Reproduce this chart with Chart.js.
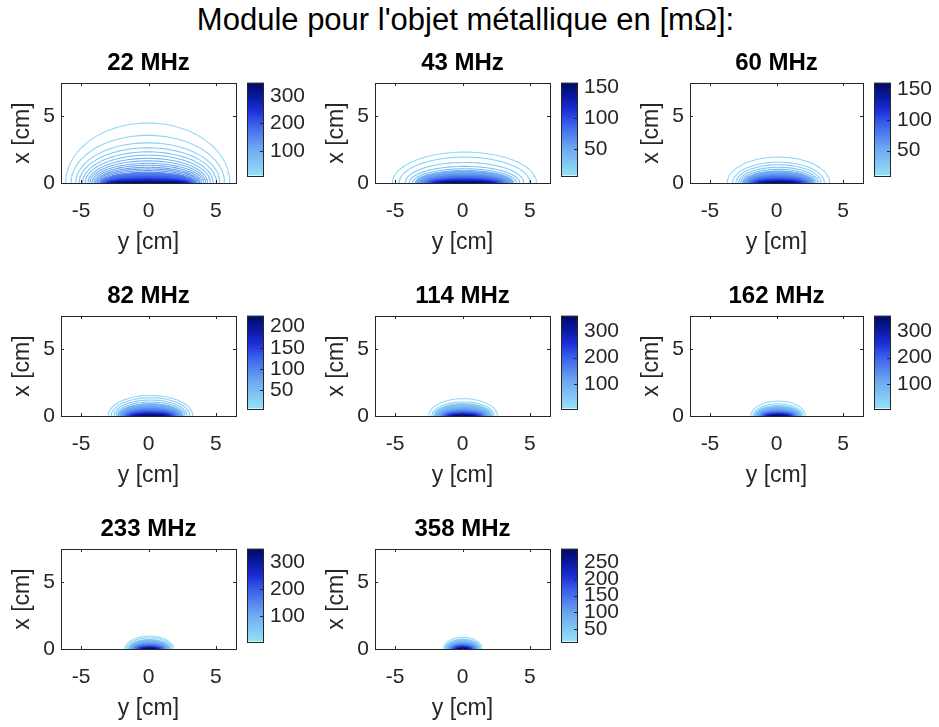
<!DOCTYPE html>
<html>
<head>
<meta charset="utf-8">
<script src="https://cdn.jsdelivr.net/npm/chart.js@4.4.1/dist/chart.umd.min.js"></script>
<style>
body{margin:0;background:#fff;width:939px;height:727px;position:relative;overflow:hidden;font-family:"Liberation Sans",Arial,sans-serif}
#title{position:absolute;left:-4px;top:0;width:939px;text-align:center;font-size:31px;line-height:40px;color:#000}
canvas{position:absolute}
</style>
</head>
<body>
<div id="title">Module pour l'objet métallique en [m<span style="font-family:'Liberation Serif',serif">Ω</span>]:</div>
<script>
// subplot titles, axis ticks
const freqs = ['22 MHz', '43 MHz', '60 MHz', '82 MHz', '114 MHz', '162 MHz', '233 MHz', '358 MHz'];
const yTicks = [-5, 0, 5];
const xTicks = [0, 5];

// colorbar limits and ticks [mOhm]
const cbMin = [10, 7, 10, 6.5, 9, 9, 8, 13];
const cbMax = [349, 158, 160, 226, 358, 358, 350, 291];
const cbTicks = [
  [100, 200, 300], [50, 100, 150], [50, 100, 150], [50, 100, 150, 200],
  [100, 200, 300], [100, 200, 300], [100, 200, 300], [50, 100, 150, 200, 250]
];

// contour centre along y [cm]
const centers = [-0.05, 0.15, 0.15, 0.15, 0.05, 0.12, 0.06, 0.02];

// contour levels, height along x [cm], half width along y [cm]
const lv22 = [20, 30, 40, 50, 60, 70, 80, 90, 100, 110, 120, 130, 140, 150, 160, 170, 180, 190, 200, 210, 220, 230, 240, 250, 260, 270, 280, 290, 300, 310, 320, 330, 340];
const h22 = [4.47, 3.55, 2.99, 2.62, 2.32, 2.07, 1.84, 1.65, 1.47, 1.32, 1.17, 1.05, 0.92, 0.80, 0.70, 0.62, 0.55, 0.49, 0.44, 0.39, 0.35, 0.31, 0.27, 0.24, 0.21, 0.18, 0.15, 0.12, 0.10, 0.08, 0.06, 0.04, 0.02];
const w22 = [6.10, 5.70, 5.35, 5.10, 4.85, 4.65, 4.45, 4.30, 4.15, 4.00, 3.88, 3.77, 3.66, 3.56, 3.47, 3.40, 3.33, 3.27, 3.21, 3.16, 3.11, 3.06, 3.01, 2.96, 2.91, 2.86, 2.80, 2.73, 2.65, 2.55, 2.42, 2.25, 1.95];

const lv43 = [12, 18, 24, 30, 36, 42, 48, 54, 60, 66, 72, 78, 84, 90, 96, 102, 108, 114, 120, 126, 132, 138, 144, 150, 155];
const h43 = [2.30, 1.93, 1.53, 1.24, 1.06, 0.93, 0.82, 0.73, 0.65, 0.58, 0.52, 0.46, 0.41, 0.36, 0.32, 0.28, 0.24, 0.21, 0.18, 0.15, 0.12, 0.09, 0.07, 0.04, 0.02];
const w43 = [5.35, 4.85, 4.40, 4.10, 3.85, 3.65, 3.48, 3.33, 3.20, 3.08, 2.97, 2.86, 2.76, 2.66, 2.57, 2.48, 2.39, 2.30, 2.20, 2.10, 1.98, 1.85, 1.70, 1.50, 1.15];

const lv60 = [15, 21, 27, 33, 39, 45, 51, 57, 63, 69, 75, 81, 87, 93, 99, 105, 111, 117, 123, 129, 135, 141, 147, 153, 158];
const h60 = [1.93, 1.55, 1.36, 1.17, 1.02, 0.90, 0.80, 0.71, 0.63, 0.56, 0.50, 0.44, 0.39, 0.34, 0.30, 0.26, 0.22, 0.19, 0.16, 0.13, 0.10, 0.08, 0.05, 0.03, 0.01];
const w60 = [3.85, 3.45, 3.20, 3.00, 2.84, 2.70, 2.58, 2.47, 2.37, 2.28, 2.19, 2.11, 2.03, 1.95, 1.87, 1.79, 1.71, 1.62, 1.53, 1.43, 1.32, 1.19, 1.04, 0.85, 0.55];

const lv82 = [15, 24, 33, 42, 51, 60, 69, 78, 87, 96, 105, 114, 123, 132, 141, 150, 159, 168, 177, 186, 195, 204, 213, 222];
const h82 = [1.53, 1.36, 1.19, 1.04, 0.92, 0.82, 0.73, 0.65, 0.58, 0.52, 0.46, 0.41, 0.36, 0.32, 0.28, 0.24, 0.21, 0.18, 0.15, 0.12, 0.09, 0.06, 0.04, 0.02];
const w82 = [3.15, 2.92, 2.72, 2.56, 2.43, 2.31, 2.21, 2.12, 2.04, 1.96, 1.89, 1.82, 1.75, 1.68, 1.61, 1.54, 1.47, 1.39, 1.31, 1.22, 1.11, 0.98, 0.82, 0.60];

const lv114 = [18, 32, 46, 60, 74, 88, 102, 116, 130, 144, 158, 172, 186, 200, 214, 228, 242, 256, 270, 284, 298, 312, 326, 340, 352];
const h114 = [1.29, 1.05, 0.92, 0.81, 0.72, 0.64, 0.57, 0.51, 0.46, 0.41, 0.37, 0.33, 0.29, 0.26, 0.23, 0.20, 0.17, 0.14, 0.12, 0.10, 0.08, 0.06, 0.04, 0.02, 0.01];
const w114 = [2.55, 2.32, 2.18, 2.06, 1.96, 1.87, 1.79, 1.72, 1.65, 1.58, 1.52, 1.46, 1.40, 1.34, 1.28, 1.22, 1.15, 1.08, 1.01, 0.93, 0.85, 0.75, 0.64, 0.50, 0.32];

const lv162 = [20, 36, 52, 68, 84, 100, 116, 132, 148, 164, 180, 196, 212, 228, 244, 260, 276, 292, 308, 324, 340, 352];
const h162 = [1.11, 0.90, 0.77, 0.67, 0.59, 0.52, 0.46, 0.41, 0.36, 0.32, 0.28, 0.25, 0.22, 0.19, 0.16, 0.13, 0.11, 0.09, 0.07, 0.05, 0.03, 0.01];
const w162 = [2.05, 1.88, 1.76, 1.66, 1.58, 1.51, 1.44, 1.38, 1.32, 1.26, 1.20, 1.14, 1.08, 1.02, 0.96, 0.89, 0.82, 0.74, 0.65, 0.54, 0.41, 0.25];

const lv233 = [20, 38, 56, 74, 92, 110, 128, 146, 164, 182, 200, 218, 236, 254, 272, 290, 308, 326, 344];
const h233 = [0.95, 0.82, 0.70, 0.61, 0.53, 0.46, 0.40, 0.35, 0.30, 0.26, 0.22, 0.19, 0.16, 0.13, 0.10, 0.08, 0.06, 0.04, 0.02];
const w233 = [1.80, 1.66, 1.54, 1.44, 1.35, 1.27, 1.19, 1.12, 1.05, 0.98, 0.91, 0.84, 0.77, 0.70, 0.62, 0.54, 0.45, 0.35, 0.22];

const lv358 = [22, 38, 54, 70, 86, 102, 118, 134, 150, 166, 182, 198, 214, 230, 246, 262, 278, 288];
const h358 = [0.88, 0.74, 0.63, 0.55, 0.48, 0.42, 0.37, 0.32, 0.28, 0.24, 0.20, 0.17, 0.14, 0.11, 0.08, 0.06, 0.04, 0.02];
const w358 = [1.42, 1.31, 1.21, 1.13, 1.06, 0.99, 0.93, 0.87, 0.81, 0.75, 0.69, 0.63, 0.57, 0.50, 0.43, 0.35, 0.27, 0.17];

const contours = [
  [lv22, h22, w22], [lv43, h43, w43], [lv60, h60, w60], [lv82, h82, w82],
  [lv114, h114, w114], [lv162, h162, w162], [lv233, h233, w233], [lv358, h358, w358]
];

// layout (px)
const colLeft = [61, 375, 690];
const colWidth = [175, 175, 173];
const rowTop = [83, 316, 549];
const axH = 100;
const cbLeft = [247, 561, 874];
const cbW = 17;

const ink = '#262626';
Chart.defaults.font.family = '"Liberation Sans", Arial, sans-serif';
Chart.defaults.color = ink;

// blue colormap, light cyan -> navy
const cmap = [
  [0, [148, 225, 248]], [0.3, [108, 166, 240]], [0.55, [58, 96, 234]],
  [0.7, [28, 46, 215]], [0.85, [10, 24, 160]], [1, [0, 10, 100]]
];
function colorAt(t) {
  t = Math.max(0, Math.min(1, t));
  for (let k = 1; k < cmap.length; k++) {
    if (t <= cmap[k][0]) {
      const [p0, c0] = cmap[k - 1], [p1, c1] = cmap[k];
      const f = (t - p0) / (p1 - p0);
      const c = c0.map((v, j) => Math.round(v + (c1[j] - v) * f));
      return `rgb(${c[0]},${c[1]},${c[2]})`;
    }
  }
  return 'rgb(0,10,100)';
}

// half ellipse through a contour's top and its two feet
function arc(h, w, c) {
  const pts = [];
  for (let k = 0; k <= 60; k++) {
    const t = Math.PI * k / 60;
    pts.push({x: c + w * Math.cos(t), y: h * Math.sin(t)});
  }
  return pts;
}

const matlabBox = {
  id: 'matlabBox',
  afterDraw(chart, args, opts) {
    const {ctx, chartArea: a} = chart;
    const sx = chart.scales.x, sy = chart.scales.y;
    ctx.save();
    ctx.strokeStyle = ink;
    ctx.lineWidth = 1;
    ctx.strokeRect(Math.round(a.left) + 0.5, Math.round(a.top) + 0.5, Math.round(a.width), Math.round(a.height));
    ctx.beginPath();
    yTicks.forEach(v => {
      const px = Math.round(sx.getPixelForValue(v)) + 0.5;
      ctx.moveTo(px, a.bottom); ctx.lineTo(px, a.bottom - 3);
      ctx.moveTo(px, a.top); ctx.lineTo(px, a.top + 3);
    });
    xTicks.forEach(v => {
      const py = Math.round(sy.getPixelForValue(v)) + 0.5;
      ctx.moveTo(a.left, py); ctx.lineTo(a.left + 3, py);
      ctx.moveTo(a.right, py); ctx.lineTo(a.right - 3, py);
    });
    ctx.stroke();
    ctx.fillStyle = '#000';
    ctx.font = 'bold 24px "Liberation Sans", Arial, sans-serif';
    ctx.textAlign = 'center';
    ctx.textBaseline = 'middle';
    ctx.fillText(opts.text, (a.left + a.right) / 2, a.top - 20);
    ctx.restore();
  }
};

const cbFrame = {
  id: 'cbFrame',
  afterDraw(chart, args, opts) {
    const {ctx, chartArea: a} = chart;
    const sy = chart.scales.y;
    ctx.save();
    ctx.strokeStyle = ink;
    ctx.lineWidth = 1;
    ctx.strokeRect(a.left + 0.5, Math.round(a.top) + 0.5, Math.round(a.width) - 1, Math.round(a.height));
    ctx.beginPath();
    opts.ticks.forEach(v => {
      const py = Math.round(sy.getPixelForValue(v)) + 0.5;
      ctx.moveTo(a.right - 1, py); ctx.lineTo(a.right - 4, py);
    });
    ctx.stroke();
    ctx.restore();
  }
};

function addCanvas(left, top, w, h) {
  const cv = document.createElement('canvas');
  cv.width = w; cv.height = h;
  cv.style.left = left + 'px'; cv.style.top = top + 'px';
  cv.style.width = w + 'px'; cv.style.height = h + 'px';
  document.body.appendChild(cv);
  return cv;
}

function makeAxes(i) {
  const col = i % 3, row = Math.floor(i / 3);
  const L = colLeft[col], T = rowTop[row], W = colWidth[col];
  const cv = addCanvas(L - 61, T - 40, 61 + W + 6, 40 + axH + 75);
  const [lv, hs, ws] = contours[i];
  // innermost contour first so the outer ones are painted underneath
  const datasets = lv.map((v, k) => {
    const col = colorAt((v - cbMin[i]) / (cbMax[i] - cbMin[i]));
    const dense = k + 1 < hs.length && hs[k] - hs[k + 1] < 0.115;
    return {
      data: arc(hs[k], ws[k], centers[i]),
      borderColor: col,
      backgroundColor: col,
      borderWidth: 1.1,
      pointRadius: 0,
      showLine: true,
      tension: 0,
      fill: dense ? 'origin' : false
    };
  }).reverse();
  new Chart(cv, {
    type: 'scatter',
    data: {datasets},
    options: {
      responsive: false,
      animation: false,
      events: [],
      layout: {padding: {top: 40, right: 6, left: 0, bottom: 0}},
      plugins: {legend: {display: false}, tooltip: {enabled: false}, matlabBox: {text: freqs[i]}},
      scales: {
        x: {
          type: 'linear', min: -6.5, max: 6.5,
          afterFit: s => { s.height = 75; },
          afterBuildTicks: s => { s.ticks = yTicks.map(v => ({value: v})); },
          grid: {display: false, drawTicks: false}, border: {display: false},
          ticks: {padding: 16, maxRotation: 0, autoSkip: false, font: {size: 21}},
          title: {display: true, text: 'y [cm]', font: {size: 23}, padding: {top: 0, bottom: 2}}
        },
        y: {
          type: 'linear', min: 0, max: 7.45,
          afterFit: s => { s.width = 61; },
          afterBuildTicks: s => { s.ticks = xTicks.map(v => ({value: v})); },
          grid: {display: false, drawTicks: false}, border: {display: false},
          ticks: {padding: 6, autoSkip: false, font: {size: 21}},
          title: {display: true, text: 'x [cm]', font: {size: 23}, padding: {top: 9, bottom: 0}}
        }
      }
    },
    plugins: [matlabBox]
  });
}

function makeColorbar(i) {
  const col = i % 3, row = Math.floor(i / 3);
  const top = rowTop[row] - 4;
  const cv = addCanvas(cbLeft[col], top - 15, cbW + 62, axH + 30);
  new Chart(cv, {
    type: 'bar',
    data: {
      labels: [''],
      datasets: [{
        data: [[cbMin[i], cbMax[i]]],
        borderWidth: 0,
        barPercentage: 1,
        categoryPercentage: 1,
        backgroundColor: c => {
          const a = c.chart.chartArea;
          if (!a) return colorAt(0.5);
          const g = c.chart.ctx.createLinearGradient(0, a.bottom, 0, a.top);
          cmap.forEach(([p]) => g.addColorStop(p, colorAt(p)));
          return g;
        }
      }]
    },
    options: {
      responsive: false,
      animation: false,
      events: [],
      layout: {padding: {top: 15, bottom: 15, left: 0, right: 0}},
      plugins: {legend: {display: false}, tooltip: {enabled: false}, cbFrame: {ticks: cbTicks[i]}},
      scales: {
        x: {display: false},
        y: {
          position: 'right', min: cbMin[i], max: cbMax[i],
          afterFit: s => { s.width = 62; },
          afterBuildTicks: s => { s.ticks = cbTicks[i].map(v => ({value: v})); },
          grid: {display: false, drawTicks: false}, border: {display: false},
          ticks: {padding: 6, autoSkip: false, font: {size: 21}}
        }
      }
    },
    plugins: [cbFrame]
  });
}

freqs.forEach((f, i) => { makeAxes(i); makeColorbar(i); });
</script>
</body>
</html>
